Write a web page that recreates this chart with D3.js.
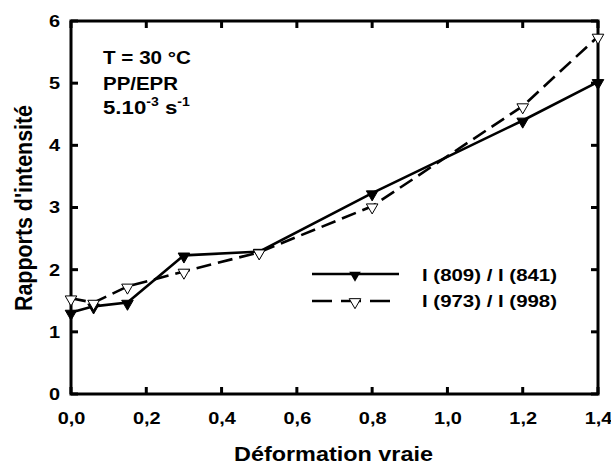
<!DOCTYPE html>
<html><head><meta charset="utf-8">
<script src="https://cdn.jsdelivr.net/npm/d3@7"></script>
<style>body{margin:0;background:#fff}svg{display:block}</style>
</head><body><svg id="c" width="611" height="464"></svg>
<script>
const xValues = [0, 0.06, 0.15, 0.3, 0.5, 0.8, 1.2, 1.4];
const series1 = [1.31, 1.41, 1.47, 2.23, 2.29, 3.23, 4.40, 5.02];
const series2 = [1.54, 1.47, 1.73, 1.97, 2.28, 3.02, 4.63, 5.75];
const seriesNames = ["I (809) / I (841)", "I (973) / I (998)"];
const xTicks = [0, 0.2, 0.4, 0.6, 0.8, 1.0, 1.2, 1.4];
const yTicks = [0, 1, 2, 3, 4, 5, 6];

const FONT = "'Liberation Sans', Arial, Helvetica, sans-serif";
const STRETCH = 1.17;
const svg = d3.select("#c");
const L = 71, R = 598, T = 21, B = 394;
const x = d3.scaleLinear().domain([0, 1.4]).range([L, R]);
const y = d3.scaleLinear().domain([0, 6]).range([B, T]);
const fmt = d => d.toFixed(1).replace(".", ",");

function stretchText(sel, factor){
  sel.each(function(){
    const w = this.getComputedTextLength();
    if (w > 0) { this.setAttribute("textLength", (w*factor).toFixed(1)); this.setAttribute("lengthAdjust","spacingAndGlyphs"); }
  });
}
function styleAxis(g){
  g.select(".domain").remove();
  g.selectAll(".tick line").remove();
  g.selectAll(".tick text").attr("fill","#000").attr("font-size",17).attr("font-weight","bold").attr("font-family",FONT);
  stretchText(g.selectAll(".tick text"), STRETCH);
}
svg.append("g").attr("transform",`translate(0,${B})`)
  .call(d3.axisBottom(x).tickValues(xTicks).tickFormat(fmt).tickSizeInner(0).tickSizeOuter(0).tickPadding(18))
  .call(styleAxis);
svg.append("g").attr("transform",`translate(${L},0)`)
  .call(d3.axisLeft(y).tickValues(yTicks).tickFormat(d3.format("d")).tickSizeInner(0).tickSizeOuter(0).tickPadding(11))
  .call(styleAxis);

const line = d3.line().x(d=>x(d[0])).y(d=>y(d[1]));
const d1 = xValues.map((v,i)=>[v,series1[i]]);
const d2 = xValues.map((v,i)=>[v,series2[i]]);
const tri = d3.symbol().type(d3.symbolTriangle).size(58);

svg.append("path").datum(d1).attr("d",line).attr("fill","none").attr("stroke","#000").attr("stroke-width",2.6);
svg.append("path").datum(d2).attr("d",line).attr("fill","none").attr("stroke","#000").attr("stroke-width",2.6).attr("stroke-dasharray","15,7");

function txt(g, xx, yy, size, s, w){
  const t = g.append("text").attr("x",xx).attr("y",yy).attr("font-size",size).attr("font-weight","bold")
    .attr("font-family",FONT).attr("fill","#000").text(s);
  if (w) t.attr("textLength",w).attr("lengthAdjust","spacingAndGlyphs");
  return t;
}

// legend
const lg = svg.append("g");
lg.append("line").attr("x1",312).attr("x2",399).attr("y1",274).attr("y2",274).attr("stroke","#000").attr("stroke-width",2.6);
lg.append("path").attr("d",tri).attr("transform","translate(355,275) rotate(180)").attr("fill","#000");
lg.append("line").attr("x1",312).attr("x2",399).attr("y1",301).attr("y2",301).attr("stroke","#000").attr("stroke-width",2.6).attr("stroke-dasharray","20,9");
lg.append("path").attr("d",tri).attr("transform","translate(355,302) rotate(180)").attr("fill","#fff").attr("stroke","#000").attr("stroke-width",1);
txt(lg, 422, 281, 16, seriesNames[0], 135);
txt(lg, 422, 307, 16, seriesNames[1], 135);

// annotation
const an = svg.append("g");
txt(an, 103, 64, 19, "T = 30 °C", 88);
txt(an, 103, 90, 19, "PP/EPR", 75);
const t3 = an.append("text").attr("x",103).attr("y",114).attr("font-size",19).attr("font-weight","bold")
  .attr("font-family",FONT).attr("fill","#000");
t3.append("tspan").text("5.10");
t3.append("tspan").attr("dy",-8).attr("font-size",12).text("-3");
t3.append("tspan").attr("dy",8).text(" s");
t3.append("tspan").attr("dy",-8).attr("font-size",12).text("-1");
stretchText(t3, STRETCH);

// axis titles
txt(svg, 234, 461, 21, "Déformation vraie", 199);
svg.append("text").attr("transform",`translate(32,208) scale(${STRETCH},1) rotate(-90)`)
  .attr("text-anchor","middle").attr("font-size",20).attr("font-weight","bold").attr("font-family",FONT)
  .attr("fill","#000").attr("textLength",206).attr("lengthAdjust","spacingAndGlyphs").text("Rapports d'intensité");

// frame and inward ticks, drawn on top
const fg = svg.append("g");
fg.append("rect").attr("x",x(0)).attr("y",y(6)).attr("width",x(1.4)-x(0)).attr("height",y(0)-y(6))
  .attr("fill","none").attr("stroke","#000").attr("stroke-width",3);
xTicks.forEach(v => {
  fg.append("line").attr("x1",x(v)).attr("x2",x(v)).attr("y1",y(0)).attr("y2",y(0)-7).attr("stroke","#000").attr("stroke-width",3);
  fg.append("line").attr("x1",x(v)).attr("x2",x(v)).attr("y1",y(6)).attr("y2",y(6)+7).attr("stroke","#000").attr("stroke-width",3);
});
yTicks.forEach(v => {
  fg.append("line").attr("x1",x(0)).attr("x2",x(0)+7).attr("y1",y(v)).attr("y2",y(v)).attr("stroke","#000").attr("stroke-width",3);
  fg.append("line").attr("x1",x(1.4)).attr("x2",x(1.4)-7).attr("y1",y(v)).attr("y2",y(v)).attr("stroke","#000").attr("stroke-width",3);
});

// markers on top of everything
svg.selectAll(".m1").data(d1).enter().append("path").attr("d",tri)
  .attr("transform",d=>`translate(${x(d[0])},${y(d[1])+1}) rotate(180)`).attr("fill","#000").attr("stroke","#000").attr("stroke-width",1);
svg.selectAll(".m2").data(d2).enter().append("path").attr("d",tri)
  .attr("transform",d=>`translate(${x(d[0])},${y(d[1])+1}) rotate(180)`).attr("fill","#fff").attr("stroke","#000").attr("stroke-width",1);
</script></body></html>
